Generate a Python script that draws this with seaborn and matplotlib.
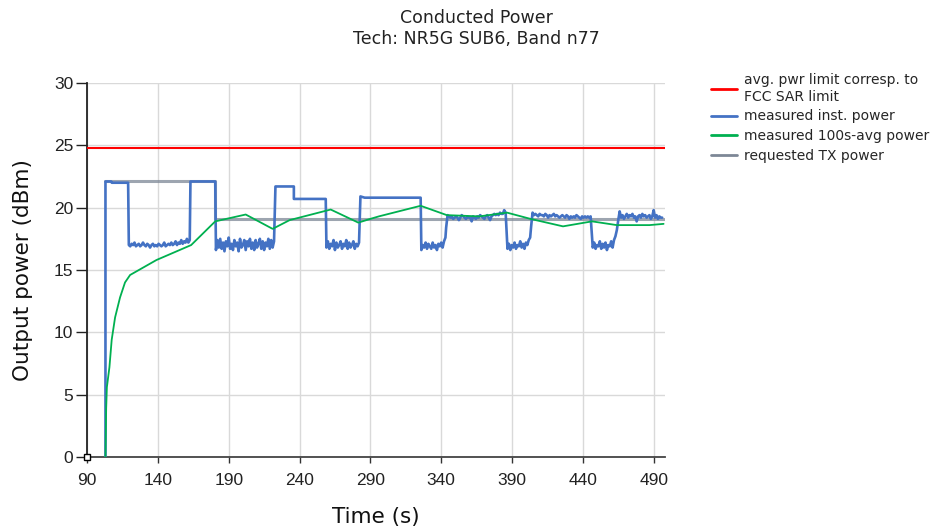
import numpy as np
import pandas as pd
import matplotlib
matplotlib.use("Agg")
import matplotlib.pyplot as plt
import seaborn as sns

# ---- data ----
SAR_LIMIT = 24.8

# requested TX power (step)
req_t = [103, 180, 180, 497]
req_v = [22.1, 22.1, 19.1, 19.1]

# measured 100s-avg power
avg_t = [103, 103.5, 104, 105.8, 107.4, 109.8, 113.3, 116.8, 120.4, 139, 163.5,
         180.5, 202, 221, 233, 262, 281.5, 290, 296, 325.5, 344, 367, 386.5,
         403, 426, 446.5, 464, 487, 497]
avg_v = [0.0, 3.9, 5.6, 7.2, 9.4, 11.2, 12.8, 14.0, 14.6, 15.8, 17.0,
         18.9, 19.45, 18.3, 19.0, 19.85, 18.8, 19.1, 19.3, 20.15, 19.4, 19.3, 19.6,
         19.1, 18.5, 18.9, 18.6, 18.6, 18.7]

# measured instantaneous power: flat steps and noisy stretches (1 s samples)
inst_start = [(103, 0.0), (103, 22.1), (107, 22.1), (107.5, 22.0), (119, 22.0)]
low1 = [17.0, 16.9, 17.1, 17.0, 17.2, 16.9, 17.0, 17.1, 16.9, 17.0, 17.2, 17.0,
        16.9, 17.1, 17.0, 16.8, 17.0, 17.1, 16.9, 17.0, 16.9, 17.1, 17.0, 16.9,
        17.0, 17.2, 16.9, 17.0, 17.1, 17.0, 17.2, 17.0, 17.1, 17.3, 17.0, 17.2,
        17.1, 17.4, 17.1, 17.3, 17.2, 17.5, 17.2, 17.4]
high1 = [(163, 22.1), (180.5, 22.1)]
low2 = [16.6, 17.4, 16.8, 17.5, 16.7, 17.2, 16.5, 17.3, 16.9, 17.6, 16.7, 17.1,
        16.6, 17.4, 16.9, 17.2, 16.5, 17.5, 16.8, 17.0, 17.4, 16.6, 17.3, 16.9,
        17.5, 16.7, 17.2, 16.6, 17.4, 16.8, 17.1, 17.5, 16.7, 17.3, 16.6, 17.2,
        16.9, 17.5, 16.7, 17.4, 16.8, 17.3]
high2 = [(223, 21.7), (236, 21.7), (236, 20.7), (258.5, 20.7)]
low3 = [16.8, 17.3, 16.7, 17.1, 16.9, 17.4, 16.6, 17.2, 16.8, 17.0, 17.3, 16.7,
        17.1, 16.9, 17.4, 16.7, 17.2, 16.8, 17.0, 17.3, 16.7, 17.1, 16.9, 17.2]
high3 = [(283, 20.9), (286, 20.8), (325.5, 20.8)]
low4 = [16.6, 17.0, 16.8, 17.2, 16.7, 17.1, 16.9, 16.7, 17.2, 16.8, 17.0, 16.6,
        17.1, 16.9, 17.2, 16.8, 17.3, 17.6]
mid1 = [18.4, 19.4, 19.3, 19.2, 19.3, 19.1, 19.2, 19.3, 19.2, 19.0, 19.2, 19.4,
        19.3, 19.2, 19.1, 19.3, 19.2, 19.2, 18.9, 19.3, 19.2, 19.1, 19.3, 19.2,
        19.4, 19.3, 19.2, 19.1, 19.3, 19.4, 19.2, 19.0, 19.3, 19.4, 19.5, 19.4,
        19.5, 19.4, 19.6, 19.5, 19.5, 19.8, 19.6]
low5 = [16.7, 17.1, 16.6, 17.0, 16.8, 17.2, 16.7, 17.0, 16.9, 17.3, 16.8, 17.1,
        16.7, 17.2, 17.0, 17.4, 17.6]
mid2 = [18.5, 19.6, 19.4, 19.5, 19.4, 19.3, 19.5, 19.4, 19.4, 19.3, 19.5, 19.4,
        19.2, 19.4, 19.3, 19.4, 19.5, 19.3, 19.4, 19.3, 19.2, 19.3, 19.4, 19.3,
        19.2, 19.4, 19.3, 19.1, 19.3, 19.2, 19.3, 19.2, 19.4, 19.3, 19.2, 19.1,
        19.3, 19.2, 19.3, 19.2, 19.3, 19.2, 19.3]
low6 = [16.8, 17.2, 16.7, 17.0, 16.9, 17.3, 16.7, 17.1, 16.8, 17.2, 16.6, 17.0,
        16.9, 17.3, 16.8, 17.4, 17.7, 18.2]
mid3 = [19.0, 19.7, 19.2, 19.4, 19.1, 19.3, 19.5, 19.2, 19.4, 19.3, 19.5, 19.2,
        19.3, 18.9, 19.3, 19.4, 19.2, 19.5, 19.3, 19.4, 19.2, 19.3, 19.4, 19.1,
        19.3, 19.8, 19.2, 19.4, 19.1, 19.3, 19.2, 19.2]

# start time of each noisy stretch
noisy = [(119.5, low1), (181, low2), (259, low3), (326, low4), (343.5, mid1),
         (386.8, low5), (403.5, mid2), (447, low6), (465, mid3)]
flats = [inst_start, high1, high2, high3, [], [], [], [], []]

X_TICKS = [90, 140, 190, 240, 290, 340, 390, 440, 490]
Y_TICKS = [0, 5, 10, 15, 20, 25, 30]

LABELS = ["avg. pwr limit corresp. to\nFCC SAR limit", "measured inst. power",
          "measured 100s-avg power", "requested TX power"]
COLORS = ["#ff0000", "#4472c4", "#00b050", "#7d8796"]


def build_inst():
    ts, vs = [], []
    for flat, (t0, vals) in zip(flats, noisy):
        for t, v in flat:
            ts.append(t)
            vs.append(v)
        for i, v in enumerate(vals):
            ts.append(t0 + i)
            vs.append(v)
    return pd.DataFrame({"t": ts, "v": vs})


def main():
    sns.set_theme(style="white")
    plt.rcParams["font.family"] = ["DejaVu Sans"]

    fig = plt.figure(figsize=(9.39, 5.32), dpi=100)
    ax = fig.add_axes([0.0927, 0.141, 0.6155, 0.703])

    inst = build_inst()
    avg = pd.DataFrame({"t": avg_t, "v": avg_v})
    req = pd.DataFrame({"t": req_t, "v": req_v})

    ax.axhline(SAR_LIMIT, color=COLORS[0], lw=1.5, zorder=3)
    sns.lineplot(data=req, x="t", y="v", ax=ax, color=COLORS[3], lw=2.2,
                 alpha=0.75, estimator=None, sort=False, zorder=2)
    sns.lineplot(data=inst, x="t", y="v", ax=ax, color=COLORS[1], lw=1.9,
                 estimator=None, sort=False, zorder=3)
    sns.lineplot(data=avg, x="t", y="v", ax=ax, color=COLORS[2], lw=1.3,
                 estimator=None, sort=False, zorder=4)
    ax.plot([90], [0], marker="s", ms=5, mfc="white", mec="black", mew=1,
            clip_on=False, zorder=6)

    ax.set_xlim(90, 498)
    ax.set_ylim(0, 30)
    ax.set_xticks(X_TICKS)
    ax.set_yticks(Y_TICKS)
    ax.grid(True, color="#d9d9d9", lw=1)
    ax.set_axisbelow(True)

    for s in ["top", "right"]:
        ax.spines[s].set_visible(False)
    ax.spines["left"].set_color("#222222")
    ax.spines["left"].set_linewidth(1.3)
    ax.spines["bottom"].set_color("#444444")
    ax.spines["bottom"].set_linewidth(1.3)
    ax.tick_params(axis="y", length=8, width=1, color="#222222", pad=2, left=True)
    ax.tick_params(axis="x", length=4.5, width=1, color="#333333", pad=7, bottom=True)
    for lab in ax.get_xticklabels() + ax.get_yticklabels():
        lab.set_family(["Liberation Sans", "DejaVu Sans"])
        lab.set_fontsize(12.5)
        lab.set_color("#222222")

    ax.set_xlabel("Time (s)", fontsize=15.5, color="#111111", labelpad=14)
    ax.set_ylabel("Output power (dBm)", fontsize=15.5, color="#111111", labelpad=15)

    fig.text(0.507, 0.984, "Conducted Power\nTech: NR5G SUB6, Band n77",
             ha="center", va="top", fontsize=12.5, linespacing=1.25, color="#222222")

    handles = [plt.Line2D([], [], color=c, lw=2) for c in COLORS]
    fig.legend(handles, LABELS, loc="upper left", bbox_to_anchor=(0.757, 0.862),
               frameon=False, fontsize=10, handlelength=1.9, handletextpad=0.5,
               labelspacing=0.42, borderaxespad=0, borderpad=0)

    fig.savefig("out.png", dpi=100)


if __name__ == "__main__":
    main()
